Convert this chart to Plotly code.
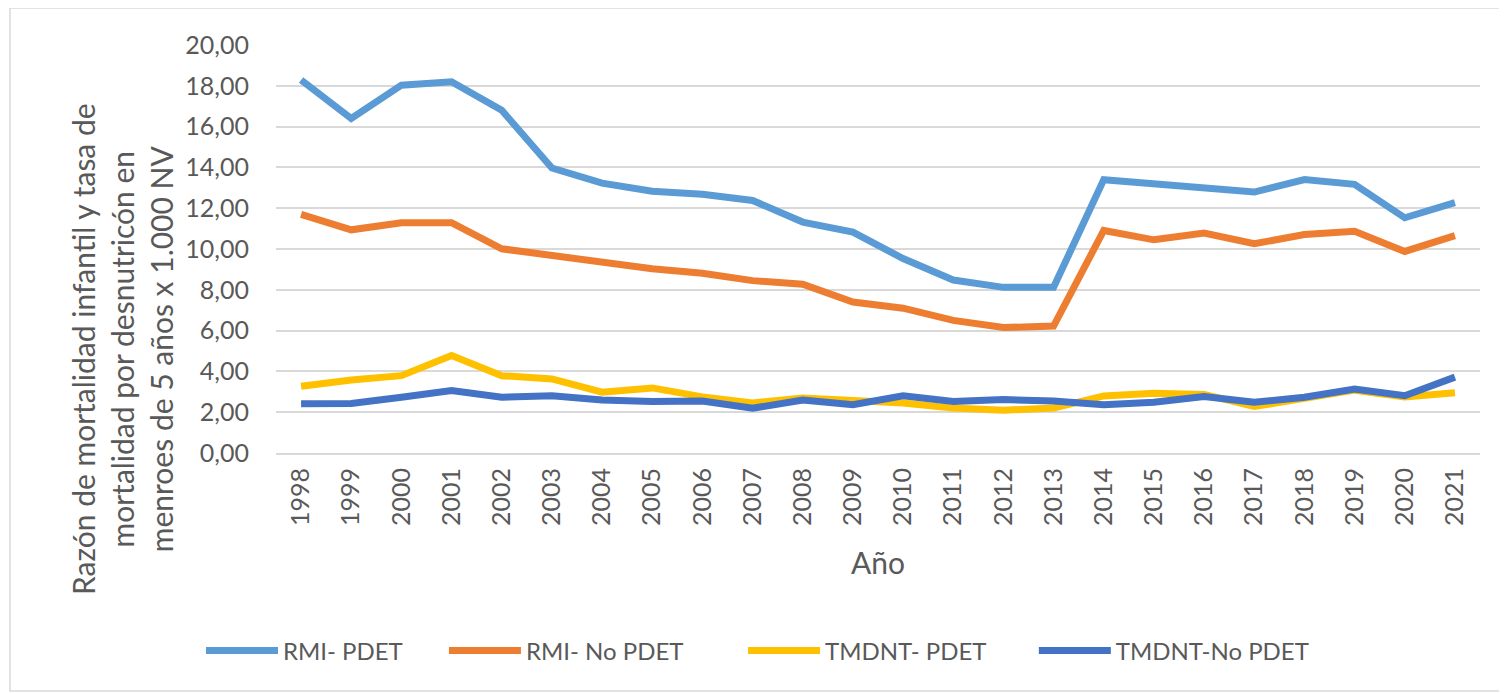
import plotly.graph_objects as go

years = [str(y) for y in range(1998, 2022)]

rmi_pdet = [18.28, 16.40, 18.03, 18.20, 16.80, 13.97, 13.23, 12.83, 12.68, 12.38, 11.32, 10.83,
            9.53, 8.48, 8.12, 8.12, 13.40, 13.20, 13.04, 12.79, 13.40, 13.17, 11.53, 12.27]
rmi_nopdet = [11.70, 10.94, 11.29, 11.29, 10.01, 9.68, 9.30, 9.03, 8.81, 8.45, 8.27, 7.40,
              7.10, 6.50, 6.15, 6.22, 10.91, 10.45, 10.78, 10.26, 10.71, 10.87, 9.88, 10.66]
tmdnt_pdet = [3.27, 3.58, 3.79, 4.78, 3.79, 3.63, 2.98, 3.19, 2.75, 2.45, 2.70, 2.60,
              2.45, 2.20, 2.10, 2.20, 2.80, 2.93, 2.87, 2.28, 2.70, 3.08, 2.75, 2.95]
tmdnt_nopdet = [2.41, 2.43, 2.73, 3.06, 2.73, 2.81, 2.60, 2.52, 2.55, 2.19, 2.60, 2.37,
                2.81, 2.52, 2.62, 2.55, 2.37, 2.49, 2.77, 2.49, 2.73, 3.14, 2.81, 3.72]

names = ["RMI- PDET", "RMI- No PDET", "TMDNT- PDET", "TMDNT-No PDET"]
colors = ["#5B9BD5", "#ED7D31", "#FFC000", "#4472C4"]
series = [rmi_pdet, rmi_nopdet, tmdnt_pdet, tmdnt_nopdet]
pads = [6, 9, 7, 0]

FONT = "Lato"
GRAY = "#595959"

fig = go.Figure()
for n, c, s, p in zip(names, colors, series, pads):
    fig.add_trace(go.Scatter(x=years, y=s, name=n + "\u00a0" * p, mode="lines",
                             line=dict(color=c, width=7)))

# page offset of the plot div (default body margin)
O = 8
W, H = 1507 - O, 694 - O
# target page-pixel geometry of the plot area
PL, PR, PT, PB = 276, 1480, 45, 453
L, R, T, B = PL - O, W - (PR - O), PT - O, H - (PB - O)
pw, ph = W - L - R, H - T - B

def px(x):
    return (x - O - L) / pw

def py(y):
    return (H - B - (y - O)) / ph

fig.update_layout(
    width=W, height=H,
    margin=dict(l=L, r=R, t=T, b=B, autoexpand=False),
    paper_bgcolor="white", plot_bgcolor="white",
    font=dict(family=FONT, color=GRAY, size=25),
    separators=",.",
    showlegend=True,
    legend=dict(orientation="h", x=px(201), xanchor="left", y=py(651), yanchor="middle",
                font=dict(size=24, color=GRAY), itemwidth=72, tracegroupgap=0,
                bgcolor="rgba(0,0,0,0)"),
    xaxis=dict(type="category", showgrid=False, showline=True, linecolor="#D9D9D9", linewidth=2,
               tickangle=-90, ticks="", tickfont=dict(size=25, color=GRAY),
               ticklabelstandoff=3, range=[-0.5, 23.5]),
    yaxis=dict(range=[0, 20], dtick=2, tickformat=".2f", showgrid=True, gridcolor="#D9D9D9",
               gridwidth=2, zeroline=False, showline=False, ticks="",
               tickfont=dict(size=25, color=GRAY), ticklabelstandoff=26),
    annotations=[
        dict(text="Razón de mortalidad infantil y tasa de<br>mortalidad por desnutricón en<br>menroes de 5 años x 1.000 NV",
             xref="paper", yref="paper", x=px(122), y=py(349), xanchor="center", yanchor="middle",
             textangle=-90, showarrow=False, font=dict(size=30, color=GRAY, family=FONT)),
        dict(text="Año", xref="paper", yref="paper", x=px(878), y=py(562),
             xanchor="center", yanchor="middle", showarrow=False,
             font=dict(size=30, color=GRAY, family=FONT)),
    ],
    shapes=[dict(type="rect", xref="paper", yref="paper", x0=px(10), x1=px(1505),
                 y0=py(691), y1=py(8), line=dict(color="#D9D9D9", width=1.5), layer="below")],
)

fig.write_html("out.html")
